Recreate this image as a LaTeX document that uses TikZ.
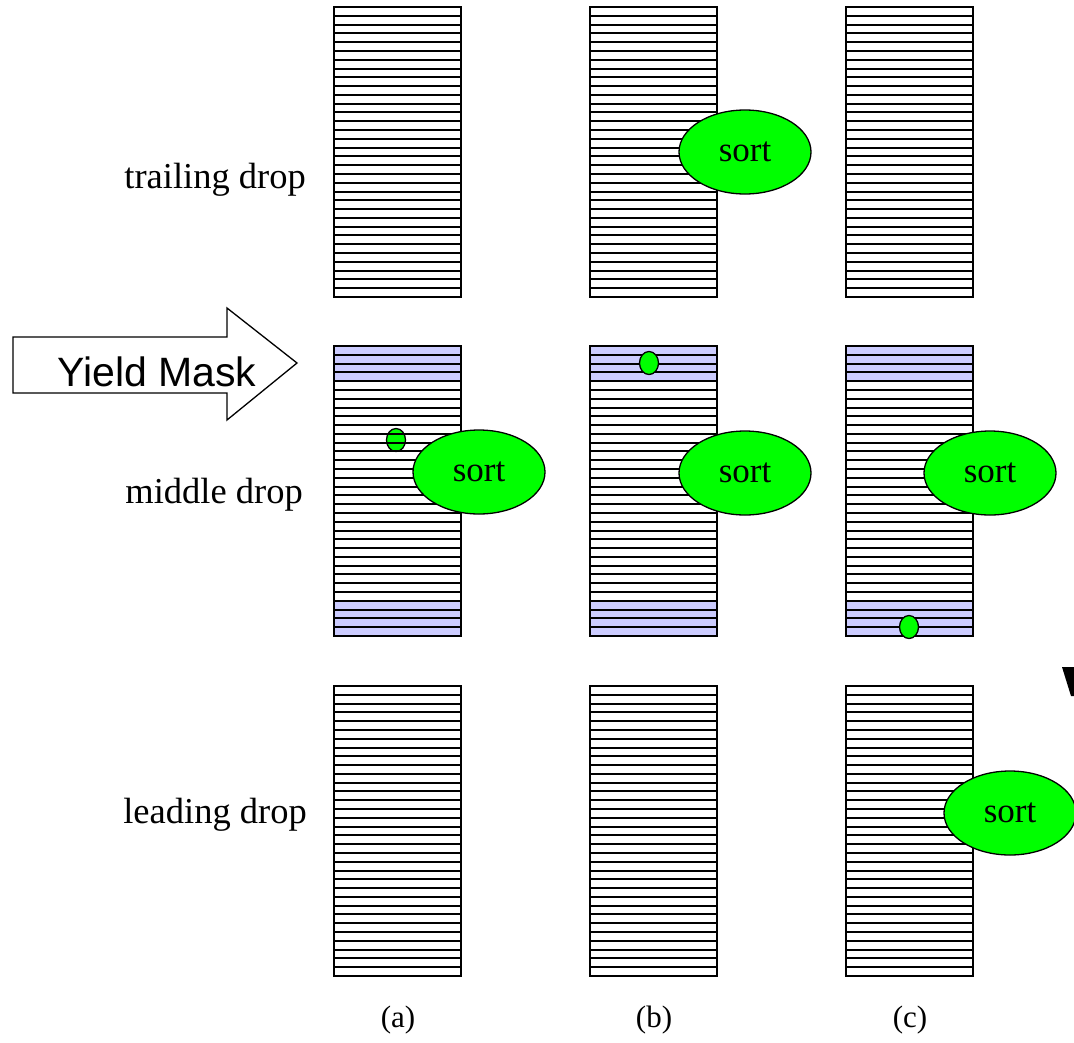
\documentclass[tikz,border=0pt]{standalone}
\usepackage{fontspec}
\setmainfont{Liberation Serif}
\newfontfamily\arialfont{Liberation Sans}
\usetikzlibrary{shapes.geometric}
\definecolor{bandblue}{RGB}{204,204,255}
\definecolor{sortgreen}{RGB}{0,255,0}
\tikzset{
  frame/.style={draw=black,line width=2pt},
  stripe/.style={draw=black,line width=2pt},
  sortnode/.style={ellipse,draw=black,line width=1.3pt,fill=sortgreen,minimum width=132pt,minimum height=84pt,inner sep=0pt,font=\fontsize{35}{37}\selectfont},
  dotnode/.style={ellipse,draw=black,line width=1.3pt,fill=sortgreen,minimum width=19pt,minimum height=23pt,inner sep=0pt},
  rowlabel/.style={anchor=east,font=\fontsize{36.5}{38}\selectfont,inner sep=0pt},
  collabel/.style={font=\fontsize{31}{33}\selectfont,inner sep=0pt}
}
% #1 = left x, #2 = top y, #3 = 1 if blue bands
\newcommand\stripecol[3]{%
  \ifnum#3=1
    \fill[bandblue] (#1,#2) rectangle ++(127,35);
    \fill[bandblue] (#1,#2+255) rectangle ++(127,35);
  \fi
  \foreach \i in {1,...,32}{%
    \pgfmathsetmacro\yy{round(#2+\i*8.788)}%
    \draw[stripe] (#1,\yy) -- ++(127,0);}
  \draw[frame] (#1,#2) rectangle ++(127,290);
}
\begin{document}
\begin{tikzpicture}[x=1pt,y=-1pt]
\useasboundingbox (0,0) rectangle (1074,1042);
% dot under stripes (column a)
\node[dotnode] (dota) at (396,440) {};
% columns
\stripecol{334}{7}{0}
\stripecol{590}{7}{0}
\stripecol{846}{7}{0}
\stripecol{334}{346}{1}
\stripecol{590}{346}{1}
\stripecol{846}{346}{1}
\stripecol{334}{686}{0}
\stripecol{590}{686}{0}
\stripecol{846}{686}{0}
% dots on top
\node[dotnode] (dotb) at (649,363) {};
\node[dotnode] (dotc) at (909,627) {};
% sort ellipses
\node[sortnode] (s1b) at (745,152) {sort};
\node[sortnode] (s2a) at (479,472) {sort};
\node[sortnode] (s2b) at (745,473) {sort};
\node[sortnode] (s2c) at (990,473) {sort};
\node[sortnode] (s3c) at (1010,813) {sort};
% row labels
\node[rowlabel] (lt) at (306,180) {trailing drop};
\node[rowlabel] (lm) at (303,495) {middle drop};
\node[rowlabel] (ll) at (307,815) {leading drop};
% column labels
\node[collabel] (ca) at (398,1020) {(a)};
\node[collabel] (cb) at (654,1020) {(b)};
\node[collabel] (cc) at (910,1020) {(c)};
% yield mask arrow
\draw[line width=1.3pt,fill=white] (13,337) -- (227,337) -- (227,308) -- (297,363) -- (227,420) -- (227,393) -- (13,393) -- cycle;
\node[font=\arialfont\fontsize{41}{43}\selectfont,inner sep=0pt] (ym) at (157,372) {Yield Mask};
% cropped glyph at right edge
\fill[black] (1062,667) -- (1074,667) -- (1074,696) -- (1071,696) -- cycle;
\end{tikzpicture}
\end{document}
